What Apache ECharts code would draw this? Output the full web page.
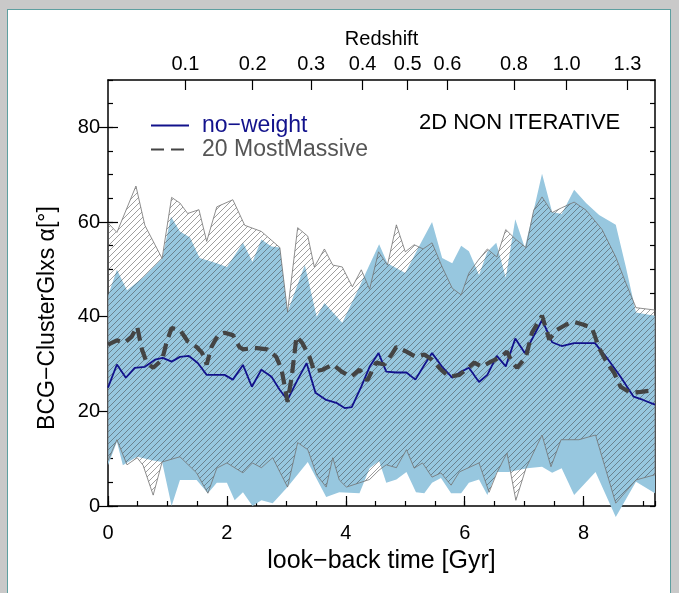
<!DOCTYPE html>
<html><head><meta charset="utf-8">
<script src="https://cdn.jsdelivr.net/npm/echarts@6/dist/echarts.min.js"></script>
<style>
html,body{margin:0;padding:0;background:#c9c9c9;width:679px;height:593px;overflow:hidden}
#panel{position:absolute;left:7px;top:9px;width:664px;height:600px;background:#fff;border:1px solid #5f9fa0;box-sizing:border-box}
#chart{position:absolute;left:0;top:0;width:679px;height:593px}
</style></head><body><div id="panel"></div><div id="chart"></div>
<script>
// ---- data (look-back time [Gyr], angle [deg]) ----
const xLabelValues = [0, 2, 4, 6, 8];
const yLabelValues = [0, 20, 40, 60, 80];
const redshiftTicks = [0.1, 0.2, 0.3, 0.4, 0.5, 0.6, 0.8, 1.0, 1.3];
const redshiftLabels = ['0.1','0.2','0.3','0.4','0.5','0.6','0.8','1.0','1.3'];

const blueUpper = [[0,44.4],[0.15,49.9],[0.32,45.6],[0.59,48.3],[0.91,52.3],[1.06,61.1],[1.21,58.0],[1.38,56.7],[1.54,52.4],[1.83,51.3],[2.00,50.5],[2.27,55.6],[2.43,51.6],[2.58,56.3],[2.75,54.8],[2.89,54.6],[3.02,41.0],[3.31,50.9],[3.51,40.0],[3.64,42.9],[3.94,38.7],[4.18,45.0],[4.36,49.9],[4.56,55.3],[4.70,51.3],[5.00,49.2],[5.23,54.8],[5.45,60.0],[5.62,52.4],[5.79,51.3],[5.94,55.0],[6.07,53.8],[6.24,48.8],[6.38,53.7],[6.53,55.6],[6.69,48.2],[6.85,60.6],[7.01,54.6],[7.16,62.5],[7.30,70.2],[7.47,62.1],[7.63,61.7],[7.84,66.8],[8.04,64.0],[8.26,61.5],[8.54,59.4],[8.71,50.5],[8.88,40.9],[9.2,40.2]];
const blueLower = [[0,8.6],[0.15,13.6],[0.25,8.6],[0.49,10.4],[0.76,9.6],[0.91,9.3],[1.07,0],[1.21,5.5],[1.49,5.5],[1.68,2.7],[1.83,4.9],[2.00,4.9],[2.13,1.2],[2.27,2.9],[2.43,0],[2.58,1.2],[2.77,0.6],[3.02,4.0],[3.36,9.3],[3.67,1.9],[3.89,2.9],[4.23,2.7],[4.40,8.0],[4.56,9.5],[4.68,4.9],[4.85,5.6],[5.02,7.2],[5.18,2.9],[5.32,2.7],[5.45,4.9],[5.60,5.9],[5.77,2.7],[5.94,2.7],[6.07,4.9],[6.24,5.6],[6.38,2.3],[6.54,7.2],[6.74,7.2],[7.05,8.0],[7.30,8.3],[7.47,7.0],[7.63,8.0],[7.84,2.3],[8.20,7.2],[8.54,-2.3],[8.88,5.1],[9.2,2.7]];
const hatchUpper = [[0,59.8],[0.15,57.8],[0.47,67.6],[0.62,59.3],[0.91,52.3],[1.07,65.2],[1.21,64.0],[1.34,61.8],[1.53,62.6],[1.66,55.9],[1.83,63.2],[2.10,64.7],[2.30,59.3],[2.58,58.0],[2.89,54.6],[3.02,41.0],[3.19,58.8],[3.36,57.0],[3.47,50.5],[3.64,54.3],[3.78,50.9],[3.94,50.5],[4.11,46.3],[4.26,49.9],[4.40,45.8],[4.55,53.7],[4.70,50.9],[4.85,59.4],[5.00,53.7],[5.15,55.2],[5.30,54.3],[5.45,55.6],[5.62,50.5],[5.79,46.0],[5.94,44.6],[6.07,49.2],[6.22,51.8],[6.38,54.3],[6.54,52.6],[6.69,58.4],[6.86,56.3],[7.03,54.6],[7.16,62.5],[7.30,65.3],[7.47,62.0],[7.63,63.0],[7.84,64.2],[8.04,62.5],[8.31,58.4],[8.54,52.6],[8.71,47.1],[8.88,41.9],[9.2,41.4]];
const hatchLower = [[0,9.6],[0.15,14.0],[0.32,8.7],[0.49,10.2],[0.59,8.6],[0.76,2.3],[0.91,9.3],[1.21,10.4],[1.49,7.0],[1.68,2.7],[1.83,8.0],[2.00,9.1],[2.27,7.0],[2.43,9.1],[2.58,8.1],[2.77,10.2],[3.02,4.0],[3.19,13.4],[3.36,11.9],[3.51,6.6],[3.67,4.0],[3.78,10.2],[3.89,5.5],[4.01,4.0],[4.23,4.9],[4.40,5.6],[4.56,7.6],[4.68,8.7],[4.85,8.1],[5.02,11.9],[5.15,8.0],[5.29,9.1],[5.45,6.1],[5.60,7.0],[5.77,4.4],[5.91,7.2],[6.24,9.1],[6.41,2.9],[6.54,7.0],[6.71,11.2],[6.86,1.2],[7.03,8.0],[7.30,15.0],[7.45,8.3],[7.62,14.0],[7.92,14.0],[8.20,15.0],[8.54,0.6],[8.88,5.5],[9.2,6.6]];
const noWeight = [[0,25.0],[0.15,29.9],[0.30,27.1],[0.45,29.2],[0.62,29.4],[0.79,30.9],[0.92,31.3],[1.07,30.5],[1.21,31.5],[1.36,31.7],[1.51,30.2],[1.66,27.7],[1.80,27.7],[1.96,27.7],[2.10,26.7],[2.27,29.8],[2.42,25.2],[2.58,28.8],[2.75,27.3],[2.89,24.5],[3.02,22.4],[3.19,26.7],[3.34,30.2],[3.49,23.9],[3.67,22.4],[3.84,21.8],[3.98,20.7],[4.10,20.9],[4.26,25.2],[4.40,29.4],[4.55,32.3],[4.68,28.4],[4.85,28.2],[5.02,28.2],[5.17,26.7],[5.32,29.8],[5.45,32.3],[5.62,29.4],[5.79,27.1],[5.94,28.4],[6.07,29.2],[6.24,26.2],[6.38,27.7],[6.54,31.7],[6.69,29.5],[6.85,35.4],[7.01,32.3],[7.30,39.3],[7.47,34.6],[7.63,33.8],[7.84,34.4],[8.19,34.4],[8.39,31.3],[8.62,27.3],[8.84,23.1],[9.00,22.4],[9.2,21.4]];
const mostMassive = [[0,34.1],[0.15,35.0],[0.28,34.5],[0.40,35.8],[0.49,37.9],[0.57,33.1],[0.65,30.3],[0.76,29.2],[0.91,30.9],[0.99,34.8],[1.07,37.6],[1.21,37.2],[1.34,34.8],[1.49,33.6],[1.58,32.4],[1.66,29.9],[1.74,33.6],[1.85,36.1],[1.96,36.6],[2.10,36.1],[2.21,33.6],[2.27,33.1],[2.47,33.4],[2.68,33.1],[2.83,31.5],[2.92,28.8],[3.02,22.0],[3.09,27.3],[3.17,35.8],[3.27,34.4],[3.39,31.5],[3.47,28.4],[3.61,28.8],[3.78,29.9],[3.93,28.4],[4.09,27.3],[4.23,28.8],[4.36,26.5],[4.51,30.3],[4.65,29.9],[4.77,32.0],[4.85,33.6],[5.02,32.6],[5.18,31.5],[5.32,32.0],[5.45,30.9],[5.60,28.8],[5.74,27.3],[5.91,27.7],[6.02,28.8],[6.16,30.3],[6.29,29.4],[6.44,30.5],[6.61,31.5],[6.71,32.6],[6.80,30.3],[6.88,29.2],[7.03,31.5],[7.13,36.6],[7.30,40.2],[7.42,35.2],[7.55,37.2],[7.70,38.3],[7.84,38.9],[8.00,38.3],[8.14,37.6],[8.26,33.4],[8.39,30.3],[8.51,28.2],[8.62,25.2],[8.79,23.9],[8.96,24.1],[9.2,24.5]];

// ---- redshift -> look-back time (flat LCDM, H0=70, Om=0.3) ----
function lookback(z){
  const H0=70, OM=0.3, OL=0.7, TH=977.8/H0, n=400, h=z/n; let s=0;
  for(let i=0;i<=n;i++){const x=i*h;const f=1/((1+x)*Math.sqrt(OM*Math.pow(1+x,3)+OL));s+=((i===0||i===n)?1:(i%2?4:2))*f;}
  return TH*s*h/3;
}
const zTickValues = redshiftTicks.map(lookback);

const FONT = '"Liberation Sans", Arial, Helvetica, sans-serif';
const XMAX = 9.2;

function makeHatch(){
  const s=6, c=document.createElement('canvas'); c.width=s; c.height=s;
  const g=c.getContext('2d'); g.strokeStyle='rgba(60,60,60,0.62)'; g.lineWidth=0.8;
  g.beginPath();
  g.moveTo(-1,s+1); g.lineTo(s+1,-1);
  g.moveTo(-1,1); g.lineTo(1,-1);
  g.moveTo(s-1,s+1); g.lineTo(s+1,s-1);
  g.stroke(); return c;
}
const hatchCanvas = makeHatch();

function bandRender(upper, lower, style){
  return function(params, api){
    const pts=[];
    upper.forEach(p=>pts.push(api.coord(p)));
    for(let i=lower.length-1;i>=0;i--) pts.push(api.coord(lower[i]));
    return {type:'polygon', shape:{points:pts}, style:style};
  };
}

const chart = echarts.init(document.getElementById('chart'), null, {renderer:'canvas'});
const axisLineStyle = {color:'#000', width:1.5};
const tickStyle = {color:'#000', width:1.2};
const hiddenSymbol = {color:'rgba(0,0,0,0)', borderColor:'rgba(0,0,0,0)', borderWidth:0, opacity:0};
chart.setOption({
  animation:false,
  textStyle:{fontFamily:FONT},
  grid:{left:108, right:24, top:80, bottom:87, containLabel:false},
  title:{text:'2D NON ITERATIVE', left:414, top:107, textStyle:{fontSize:22, fontWeight:'normal', color:'#000', fontFamily:FONT}},
  legend:{
    left:145, top:109, orient:'vertical', itemWidth:38, itemHeight:10, itemGap:1,
    itemStyle:hiddenSymbol,
    textStyle:{fontSize:23, fontFamily:FONT, padding:[0,0,0,8]},
    data:[{name:'no−weight', textStyle:{color:'#12128c'}, itemStyle:hiddenSymbol},
          {name:'20 MostMassive', textStyle:{color:'#555'}, itemStyle:hiddenSymbol}]
  },
  graphic:[{type:'text', x:48, y:318, rotation:Math.PI/2,
    style:{text:'BCG−ClusterGlxs α[°]', font:'23px '+FONT, fill:'#000', textAlign:'center', textVerticalAlign:'middle'}}],
  xAxis:[
    {type:'value', position:'bottom', min:0, max:XMAX, interval:0.5,
     axisLine:{show:true, onZero:false, lineStyle:axisLineStyle},
     axisTick:{inside:true, length:5, lineStyle:tickStyle},
     axisLabel:{customValues:xLabelValues, fontSize:20, color:'#000', margin:17, fontFamily:FONT},
     splitLine:{show:false},
     name:'look−back time [Gyr]', nameLocation:'middle', nameGap:43,
     nameTextStyle:{fontSize:25, color:'#000', fontFamily:FONT}},
    {type:'value', position:'bottom', min:0, max:XMAX,
     axisLine:{show:false}, axisTick:{inside:true, length:10, customValues:xLabelValues, lineStyle:tickStyle},
     axisLabel:{show:false}, splitLine:{show:false}},
    {type:'value', position:'top', min:0, max:XMAX,
     axisLine:{show:true, onZero:false, lineStyle:axisLineStyle},
     axisTick:{inside:true, length:10, customValues:zTickValues, lineStyle:tickStyle},
     axisLabel:{customValues:zTickValues, fontSize:20, color:'#000', margin:6, fontFamily:FONT,
       formatter:function(v){let best=0;for(let i=1;i<zTickValues.length;i++){if(Math.abs(zTickValues[i]-v)<Math.abs(zTickValues[best]-v))best=i;}return redshiftLabels[best];}},
     splitLine:{show:false},
     name:'Redshift', nameLocation:'middle', nameGap:22,
     nameTextStyle:{fontSize:20, color:'#000', fontFamily:FONT}}
  ],
  yAxis:[
    {type:'value', position:'left', min:0, max:90, interval:5,
     axisLine:{show:true, onZero:false, lineStyle:axisLineStyle},
     axisTick:{inside:true, length:5, lineStyle:tickStyle},
     axisLabel:{customValues:yLabelValues, fontSize:20, color:'#000', margin:8, fontFamily:FONT},
     splitLine:{show:false}},
    {type:'value', position:'left', min:0, max:90,
     axisLine:{show:false}, axisTick:{inside:true, length:10, customValues:yLabelValues, lineStyle:tickStyle},
     axisLabel:{show:false}, splitLine:{show:false}},
    {type:'value', position:'right', min:0, max:90, interval:5,
     axisLine:{show:true, onZero:false, lineStyle:axisLineStyle},
     axisTick:{inside:true, length:5, lineStyle:tickStyle},
     axisLabel:{show:false}, splitLine:{show:false}},
    {type:'value', position:'right', min:0, max:90,
     axisLine:{show:false}, axisTick:{inside:true, length:10, customValues:yLabelValues, lineStyle:tickStyle},
     axisLabel:{show:false}, splitLine:{show:false}}
  ],
  series:[
    {type:'custom', name:'band all', xAxisIndex:0, yAxisIndex:0, silent:true, clip:false,
     data:[[0,0]], renderItem:bandRender(blueUpper, blueLower, {fill:'#97c7df'})},
    {type:'custom', name:'band massive', xAxisIndex:0, yAxisIndex:0, silent:true, clip:false,
     data:[[0,0]], renderItem:bandRender(hatchUpper, hatchLower, {fill:{image:hatchCanvas, repeat:'repeat'}, stroke:'#727272', lineWidth:0.8})},
    {type:'line', name:'no−weight', xAxisIndex:0, yAxisIndex:0, data:noWeight, symbol:'none', showSymbol:false,
     lineStyle:{color:'#12128c', width:1.8}, itemStyle:{color:'#12128c'}},
    {type:'line', name:'20 MostMassive', xAxisIndex:0, yAxisIndex:0, data:mostMassive, symbol:'none', showSymbol:false,
     lineStyle:{color:'#444', width:4.2, type:[13,7]}, itemStyle:{color:'#444'}}
  ]
});
</script></body></html>
